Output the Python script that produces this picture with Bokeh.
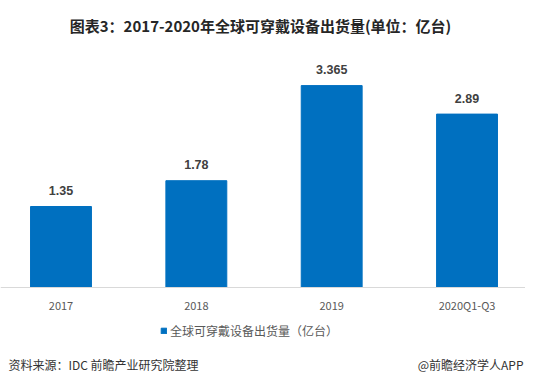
from bokeh.plotting import figure
from bokeh.models import Range1d, FixedTicker, Label, Legend, LegendItem
from bokeh.embed import file_html
from bokeh.resources import INLINE
from bokeh.core.properties import value

categories = ["2017", "2018", "2019", "2020Q1-Q3"]
shipments = [1.35, 1.78, 3.365, 2.89]
series_name = "全球可穿戴设备出货量（亿台）"
title_text = "图表3：2017-2020年全球可穿戴设备出货量(单位：亿台)"
source_text = "资料来源：IDC 前瞻产业研究院整理"
brand_text = "@前瞻经济学人APP"

xs = list(range(len(categories)))
labels = [str(v) for v in shipments]

BLUE = "#0070C0"
CJK = "Noto Sans CJK SC"
W, H = 525, 375

p = figure(width=W, height=H, output_backend="svg", toolbar_location=None,
           x_range=Range1d(-0.447, 3.432), y_range=Range1d(-88 / 60, 287 / 60),
           min_border_left=0, min_border_right=0, min_border_top=0, min_border_bottom=0)
p.outline_line_color = None
p.grid.visible = False
p.yaxis.visible = False

bars = p.vbar(x=xs, top=shipments, width=0.45, color=BLUE)

p.text(x=xs, y=shipments, text=labels, y_offset=-16, text_align="center",
       text_baseline="middle", text_font=value("Liberation Sans"),
       text_font_size="12.5px", text_font_style="bold", text_color="#404040")

ax = p.xaxis[0]
ax.fixed_location = 0
ax.ticker = FixedTicker(ticks=xs)
ax.major_label_overrides = {i: c for i, c in zip(xs, categories)}
ax.major_tick_line_color = None
ax.major_tick_out = 0
ax.major_tick_in = 0
ax.minor_tick_line_color = None
ax.axis_line_color = "#d9d9d9"
ax.major_label_text_font = CJK
ax.major_label_text_font_size = "11px"
ax.major_label_text_color = "#595959"
ax.major_label_standoff = 9

legend = Legend(items=[LegendItem(label=series_name, renderers=[bars])],
                location=(160, 36), orientation="horizontal",
                glyph_width=7, glyph_height=7, label_standoff=3,
                padding=0, margin=0, border_line_color=None,
                background_fill_alpha=0,
                label_text_font=CJK, label_text_font_size="12px",
                label_text_color="#595959", label_height=16)
p.add_layout(legend)

p.add_layout(Label(x=260, y=H - 25, x_units="screen", y_units="screen", text=title_text,
                   text_align="center", text_baseline="middle", text_font=CJK,
                   text_font_size="15px", text_font_style="bold", text_color="#262626"))
p.add_layout(Label(x=8, y=H - 364, x_units="screen", y_units="screen", text=source_text,
                   text_align="left", text_baseline="middle", text_font=CJK,
                   text_font_size="12px", text_color="#333333"))
p.add_layout(Label(x=W - 2, y=H - 364, x_units="screen", y_units="screen", text=brand_text,
                   text_align="right", text_baseline="middle", text_font=CJK,
                   text_font_size="12px", text_color="#333333"))

open("out.html", "w").write(file_html(p, INLINE))
